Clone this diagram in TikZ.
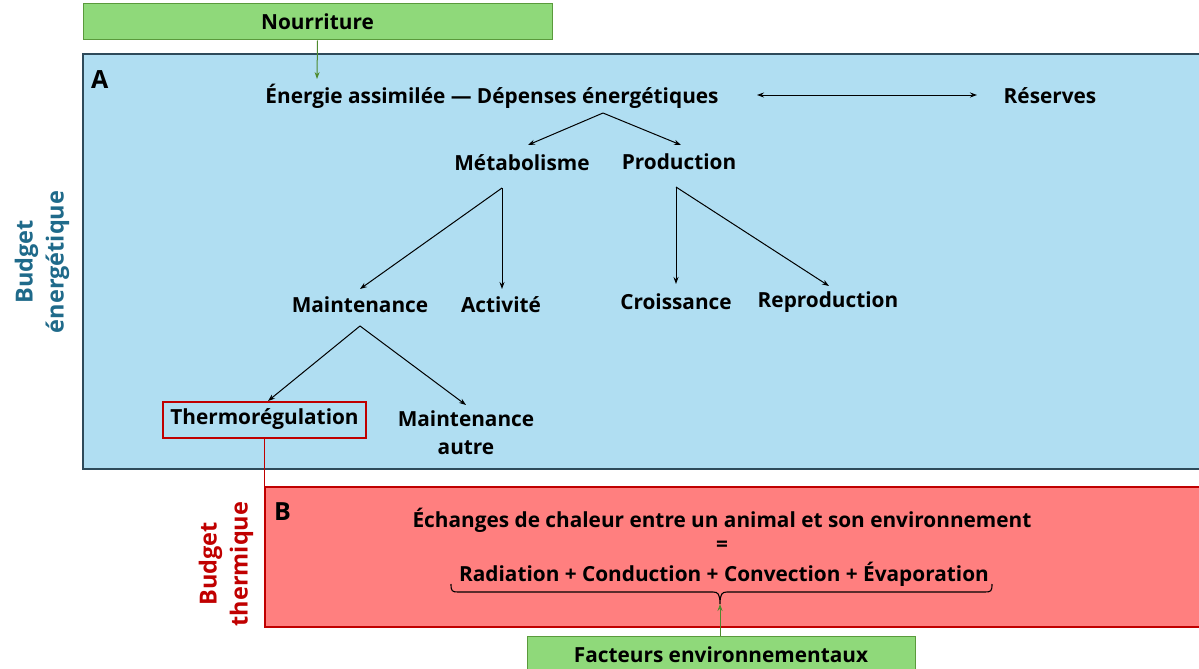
\documentclass[tikz,border=0pt]{standalone}
\usepackage{fontspec}
\setmainfont{Open Sans}
\usetikzlibrary{arrows.meta}
\definecolor{bluefill}{HTML}{B0DEF2}
\definecolor{blueborder}{HTML}{2E4A5A}
\definecolor{redfill}{HTML}{FF7F7F}
\definecolor{redborder}{HTML}{C00000}
\definecolor{greenfill}{HTML}{8FD97A}
\definecolor{greenborder}{HTML}{5A9A3C}
\definecolor{greenarrow}{HTML}{4E8A2E}
\definecolor{bluetext}{HTML}{1F6A8A}
\tikzset{
  lbl/.style={font=\fontsize{20.8}{24}\selectfont\bfseries, inner sep=0pt, align=center},
  arr/.style={-{Stealth[length=7pt,width=5pt]}, line width=1pt, black},
  garr/.style={-{Stealth[length=7pt,width=5pt]}, line width=1pt, greenarrow},
}
\begin{document}
\begin{tikzpicture}[x=1pt,y=-1pt]
\useasboundingbox (0,0) rectangle (1199,669);
% boxes
\draw[fill=bluefill, draw=blueborder, line width=1.2pt] (83,54) rectangle (1210,469);
\draw[fill=redfill, draw=redborder, line width=1.2pt] (265,487) rectangle (1210,627);
\node[draw=greenborder, fill=greenfill, line width=1pt, minimum width=469pt, minimum height=36pt, lbl, inner sep=0pt] (nour) at (317.5,22) {Nourriture};
\node[draw=greenborder, fill=greenfill, line width=1pt, minimum width=388pt, minimum height=44pt, anchor=north west, inner sep=0pt] (fact) at (527,636) {};
\node[lbl] (facttxt) at (721,655) {Facteurs environnementaux};
% labels
\node[lbl, font=\fontsize{25}{30}\selectfont\bfseries, anchor=north west] (A) at (91,70) {A};
\node[lbl, font=\fontsize{25}{30}\selectfont\bfseries, anchor=north west] (B) at (274,502) {B};
\node[lbl, rotate=90, text=bluetext, font=\fontsize{23.5}{31}\selectfont\bfseries] (be) at (42,262) {Budget\\énergétique};
\node[lbl, rotate=90, text=redborder, font=\fontsize{23.5}{31}\selectfont\bfseries] (bt) at (226,564) {Budget\\thermique};
% A nodes
\node[lbl] (ener) at (492,96) {Énergie assimilée — Dépenses énergétiques};
\node[lbl] (res) at (1050,96) {Réserves};
\node[lbl] (meta) at (522,163) {Métabolisme};
\node[lbl] (prod) at (679,162) {Production};
\node[lbl] (maint) at (360,305) {Maintenance};
\node[lbl] (act) at (501,305) {Activité};
\node[lbl] (croi) at (676,302) {Croissance};
\node[lbl] (repr) at (828,302) {Reproduction};
\node[draw=redborder, line width=1.2pt, minimum width=203pt, minimum height=36pt, inner sep=0pt] (thermo) at (264.5,420) {};
\node[lbl] (thermotxt) at (264.5,419) {Thermorégulation};
\node[lbl, font=\fontsize{20.8}{28}\selectfont\bfseries] (mautre) at (466,433) {Maintenance\\autre};
% B texts
\node[lbl] (ech) at (722,520) {Échanges de chaleur entre un animal et son environnement};
\node[lbl] (eq) at (722,546) {=};
\node[lbl] (rad) at (724,574) {Radiation + Conduction + Convection + Évaporation};
% connectors
\coordinate (dtop) at (603,113);
\coordinate (mtop) at (502,188);
\coordinate (ptop) at (676,187);
\coordinate (mntop) at (360,326);
\coordinate (braceTip) at (720,604);
\draw[garr] (nour.south) -- (317,79);
\draw[{Stealth[length=7pt,width=5pt]}-{Stealth[length=7pt,width=5pt]}, line width=1pt] (757,95) -- (977,95);
\draw[arr] (dtop) -- (528,145);
\draw[arr] (dtop) -- (681,145);
\draw[arr] (mtop) -- (360,289);
\draw[arr] (mtop) -- (502,289);
\draw[arr] (ptop) -- (676,284);
\draw[arr] (ptop) -- (829,286);
\draw[arr] (mntop) -- (268,401);
\draw[arr] (mntop) -- (466,405);
\draw[redborder, line width=1.2pt] (thermo.south) -- (264.5,487);
% brace
\draw[line width=1.1pt] (451,584) .. controls (451,591) and (452,592) .. (458,592) -- (713,592) .. controls (718,592) and (720,594) .. (braceTip) .. controls (720,594) and (722,592) .. (727,592) -- (985,592) .. controls (991,592) and (992,591) .. (992,584);
\draw[garr] (fact.north -| braceTip) -- (braceTip);
\end{tikzpicture}
\end{document}
